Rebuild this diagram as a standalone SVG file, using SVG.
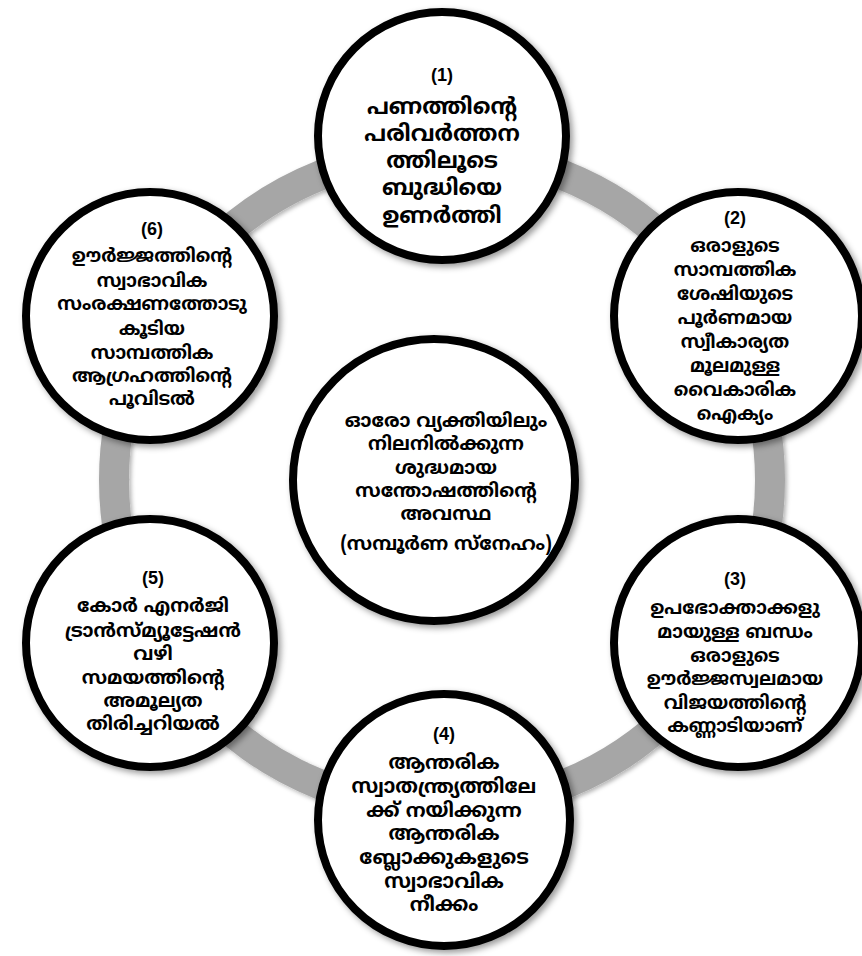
<svg xmlns="http://www.w3.org/2000/svg" width="862" height="956" viewBox="0 0 862 956">
<defs>
<filter id="sh" x="-20%" y="-20%" width="140%" height="140%">
<feDropShadow dx="3" dy="3" stdDeviation="3" flood-color="#000" flood-opacity="0.4"/>
</filter>
<filter id="rsh" x="-10%" y="-10%" width="120%" height="120%">
<feDropShadow dx="2" dy="2" stdDeviation="2" flood-color="#000" flood-opacity="0.3"/>
</filter>
</defs>
<style>
.node{fill:#fff;stroke:#000;stroke-width:8;filter:url(#sh)}
.ring{fill:none;stroke:#a6a6a6;stroke-width:30;filter:url(#rsh)}
text{font-family:"Noto Sans Malayalam","Noto Sans",sans-serif;font-weight:bold;fill:#000;text-anchor:middle}
.num{font-family:"Liberation Sans","Open Sans",sans-serif;font-size:18px;font-weight:bold}
.t{font-size:20px}
.t1{font-size:22.5px}
.ts{font-size:18.5px}
.tc{font-size:19px}
</style>
<g id="connectors">
<circle class="ring" cx="442" cy="480" r="328"/>
</g>
<g id="n1">
<circle class="node" cx="442" cy="136" r="124"/>
<text class="num" x="442" y="81">(1)</text>
<text class="t1" x="442" y="114">പണത്തിന്റെ</text>
<text class="t1" x="442" y="141">പരിവർത്തന</text>
<text class="t1" x="442" y="168">ത്തിലൂടെ</text>
<text class="t1" x="442" y="195">ബുദ്ധിയെ</text>
<text class="t1" x="442" y="223">ഉണർത്തി</text>
</g>
<g id="n2">
<circle class="node" cx="738" cy="316" r="124"/>
<text class="num" x="735" y="224">(2)</text>
<text class="ts" x="735" y="252">ഒരാളുടെ</text>
<text class="ts" x="735" y="276">സാമ്പത്തിക</text>
<text class="ts" x="735" y="300">ശേഷിയുടെ</text>
<text class="ts" x="735" y="324">പൂർണമായ</text>
<text class="ts" x="735" y="348">സ്വീകാര്യത</text>
<text class="ts" x="735" y="372">മൂലമുള്ള</text>
<text class="ts" x="735" y="396">വൈകാരിക</text>
<text class="ts" x="735" y="420">ഐക്യം</text>
</g>
<g id="n3">
<circle class="node" cx="738" cy="643" r="124"/>
<text class="num" x="735" y="585">(3)</text>
<text class="ts" x="735" y="614">ഉപഭോക്താക്കളു</text>
<text class="ts" x="735" y="638">മായുള്ള ബന്ധം</text>
<text class="ts" x="735" y="662">ഒരാളുടെ</text>
<text class="ts" x="735" y="685">ഊർജ്ജസ്വലമായ</text>
<text class="ts" x="735" y="709">വിജയത്തിന്റെ</text>
<text class="ts" x="735" y="732">കണ്ണാടിയാണ്</text>
</g>
<g id="n4">
<circle class="node" cx="444" cy="820" r="126"/>
<text class="num" x="444" y="740">(4)</text>
<text class="t" x="444" y="769">ആന്തരിക</text>
<text class="t" x="444" y="793">സ്വാതന്ത്ര്യത്തിലേ</text>
<text class="t" x="444" y="817">ക്ക് നയിക്കുന്ന</text>
<text class="t" x="444" y="840">ആന്തരിക</text>
<text class="t" x="444" y="864">ബ്ലോക്കുകളുടെ</text>
<text class="t" x="444" y="888">സ്വാഭാവിക</text>
<text class="t" x="444" y="911">നീക്കം</text>
</g>
<g id="n5">
<circle class="node" cx="150" cy="643" r="124"/>
<text class="num" x="153" y="584">(5)</text>
<text class="tc" x="153" y="612">കോർ എനർജി</text>
<text class="tc" x="153" y="637">ട്രാൻസ്മ്യൂട്ടേഷൻ</text>
<text class="tc" x="153" y="660">വഴി</text>
<text class="tc" x="153" y="684">സമയത്തിന്റെ</text>
<text class="tc" x="153" y="707">അമൂല്യത</text>
<text class="tc" x="153" y="730">തിരിച്ചറിയൽ</text>
</g>
<g id="n6">
<circle class="node" cx="150" cy="316" r="124"/>
<text class="num" x="152" y="235">(6)</text>
<text class="ts" x="152" y="262">ഊർജ്ജത്തിന്റെ</text>
<text class="ts" x="152" y="287">സ്വാഭാവിക</text>
<text class="ts" x="152" y="310">സംരക്ഷണത്തോടു</text>
<text class="ts" x="152" y="335">കൂടിയ</text>
<text class="ts" x="152" y="359">സാമ്പത്തിക</text>
<text class="ts" x="152" y="382">ആഗ്രഹത്തിന്റെ</text>
<text class="ts" x="152" y="405">പൂവിടൽ</text>
</g>
<g id="center">
<circle class="node" cx="434" cy="480" r="141"/>
<text class="tc" x="446" y="427">ഓരോ വ്യക്തിയിലും</text>
<text class="tc" x="446" y="450">നിലനിൽക്കുന്ന</text>
<text class="tc" x="446" y="474">ശുദ്ധമായ</text>
<text class="tc" x="446" y="497">സന്തോഷത്തിന്റെ</text>
<text class="tc" x="446" y="520">അവസ്ഥ</text>
<text class="tc" x="446" y="550">(സമ്പൂർണ സ്നേഹം)</text>
</g>
</svg>
